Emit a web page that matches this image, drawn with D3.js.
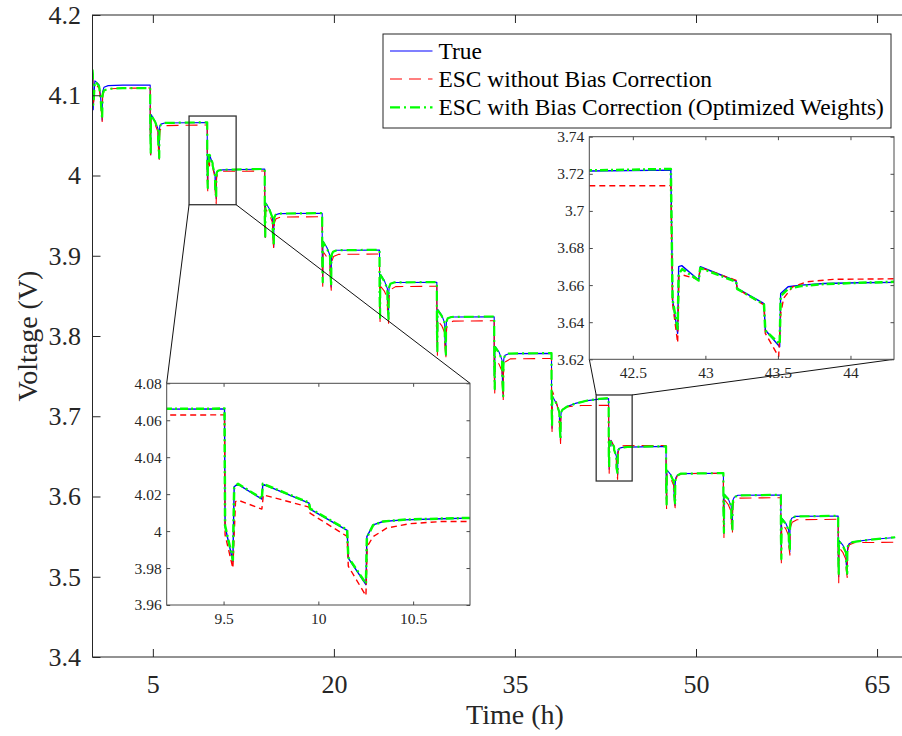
<!DOCTYPE html>
<html>
<head>
<meta charset="utf-8">
<script src="https://cdn.jsdelivr.net/npm/d3@7"></script>
<style>
  html, body { margin: 0; padding: 0; background: #fff; }
  svg { display: block; font-family: "Liberation Serif", "Times New Roman", serif; }
</style>
</head>
<body>
<svg id="chart" width="902" height="736"></svg>
<script>
// ---- Terminal voltage over the discharge test: [time (h), voltage (V)] ----
const trueVoltage = [
  [0,4.130],[0.03,4.125],[0.06,4.082],[0.1,4.095],[0.2,4.118],[0.35,4.116],[0.55,4.113],[0.66,4.100],[0.8,4.069],[0.83,4.104],[0.95,4.110],[1.3,4.112],[2.5,4.1126],[4.78,4.1128],
  [4.783,4.060],[4.825,4.026],[4.84,4.070],[4.86,4.076],[5.18,4.068],[5.43,4.058],[5.44,4.044],[5.53,4.021],[5.54,4.054],[5.58,4.062],[5.68,4.064],[5.98,4.0655],[9.505,4.0661],
  [9.508,4.0025],[9.549,3.9836],[9.556,4.024],[9.574,4.0254],[9.702,4.0173],[9.707,4.0254],[9.951,4.0151],[9.956,4.0119],[10.152,4.0004],[10.158,3.9854],[10.251,3.971],[10.256,3.997],[10.289,4.0034],[10.342,4.0052],[10.447,4.0061],[10.65,4.0067],[10.79,4.007],[14.27,4.0081],
  [14.273,3.945],[14.315,3.923],[14.33,3.960],[14.35,3.966],[14.67,3.958],[14.92,3.947],[14.93,3.932],[15.02,3.911],[15.03,3.940],[15.07,3.948],[15.17,3.951],[15.47,3.9525],[19.03,3.9529],
  [19.033,3.895],[19.075,3.866],[19.09,3.912],[19.11,3.918],[19.43,3.910],[19.68,3.900],[19.69,3.884],[19.78,3.861],[19.79,3.893],[19.83,3.902],[19.93,3.905],[20.23,3.9068],[23.78,3.9072],
  [23.783,3.852],[23.825,3.822],[23.84,3.870],[23.86,3.877],[24.18,3.869],[24.43,3.859],[24.44,3.842],[24.53,3.820],[24.54,3.853],[24.58,3.861],[24.68,3.865],[24.98,3.8666],[28.53,3.867],
  [28.533,3.810],[28.575,3.780],[28.59,3.827],[28.61,3.833],[28.93,3.826],[29.18,3.816],[29.19,3.799],[29.28,3.776],[29.29,3.809],[29.33,3.818],[29.43,3.822],[29.73,3.8236],[33.28,3.824],
  [33.283,3.762],[33.325,3.733],[33.34,3.781],[33.36,3.787],[33.68,3.780],[33.93,3.770],[33.94,3.752],[34.03,3.724],[34.04,3.762],[34.08,3.772],[34.18,3.776],[34.48,3.7780],[38.03,3.7784],
  [38.033,3.712],[38.075,3.685],[38.09,3.720],[38.11,3.725],[38.43,3.716],[38.68,3.705],[38.69,3.690],[38.78,3.670],[38.79,3.698],[38.83,3.705],[38.93,3.708],[39.3,3.712],[40.0,3.716],[41.0,3.7195],[42.0,3.7213],[42.762,3.722],
  [42.774,3.652],[42.809,3.634],[42.816,3.670],[42.837,3.6705],[42.954,3.6627],[42.965,3.6699],[43.212,3.6622],[43.219,3.6582],[43.404,3.650],[43.413,3.6358],[43.512,3.6268],[43.519,3.6555],[43.57,3.6591],[43.66,3.660],[43.82,3.6609],[44.05,3.6613],[44.31,3.6615],[47.52,3.6625],
  [47.523,3.615],[47.565,3.589],[47.58,3.628],[47.60,3.633],[47.92,3.627],[48.17,3.618],[48.18,3.603],[48.27,3.589],[48.28,3.615],[48.32,3.623],[48.42,3.626],[48.72,3.6285],[52.27,3.6289],
  [52.273,3.582],[52.315,3.554],[52.33,3.597],[52.35,3.603],[52.67,3.597],[52.92,3.588],[52.93,3.573],[53.02,3.558],[53.03,3.588],[53.07,3.596],[53.17,3.599],[53.47,3.6015],[57.03,3.6019],
  [57.033,3.550],[57.075,3.521],[57.09,3.567],[57.11,3.573],[57.43,3.567],[57.68,3.558],[57.69,3.545],[57.78,3.531],[57.79,3.560],[57.83,3.569],[57.93,3.573],[58.23,3.5752],[61.78,3.5757],
  [61.783,3.527],[61.825,3.500],[61.84,3.539],[61.86,3.545],[62.18,3.539],[62.43,3.530],[62.44,3.517],[62.53,3.503],[62.54,3.530],[62.58,3.538],[62.68,3.541],[63.0,3.5435],[64.5,3.5465],[66.5,3.549]
];

const escNoBias = [
  [0,4.128],[0.03,4.122],[0.06,4.086],[0.1,4.092],[0.2,4.112],[0.35,4.112],[0.55,4.109],[0.66,4.096],[0.8,4.066],[0.84,4.098],[0.95,4.105],[1.3,4.108],[2.5,4.1088],[4.78,4.109],
  [4.783,4.055],[4.825,4.024],[4.845,4.066],[4.865,4.070],[5.18,4.064],[5.43,4.054],[5.44,4.040],[5.53,4.018],[5.545,4.046],[5.6,4.056],[5.72,4.060],[6.1,4.0622],[9.505,4.0629],
  [9.508,3.998],[9.549,3.980],[9.563,4.016],[9.58,4.0166],[9.702,4.0119],[9.71,4.0196],[9.951,4.013],[9.956,4.0097],[10.152,3.9971],[10.158,3.981],[10.251,3.965],[10.258,3.9917],[10.289,3.997],[10.36,4.0016],[10.48,4.004],[10.65,4.0052],[10.8,4.0052],[14.27,4.0056],
  [14.273,3.940],[14.315,3.919],[14.335,3.953],[14.355,3.958],[14.67,3.951],[14.92,3.941],[14.93,3.926],[15.02,3.907],[15.035,3.933],[15.09,3.942],[15.21,3.946],[15.6,3.9482],[19.03,3.9487],
  [19.033,3.890],[19.075,3.862],[19.095,3.900],[19.115,3.905],[19.43,3.898],[19.68,3.889],[19.69,3.874],[19.78,3.857],[19.795,3.884],[19.85,3.894],[19.97,3.899],[20.36,3.9017],[23.78,3.9022],
  [23.783,3.847],[23.825,3.818],[23.845,3.857],[23.865,3.862],[24.18,3.856],[24.43,3.847],[24.44,3.832],[24.53,3.816],[24.545,3.842],[24.6,3.853],[24.72,3.858],[25.11,3.8615],[28.53,3.862],
  [28.533,3.805],[28.575,3.776],[28.595,3.814],[28.615,3.819],[28.93,3.813],[29.18,3.804],[29.19,3.789],[29.28,3.772],[29.295,3.799],[29.35,3.810],[29.47,3.815],[29.86,3.8185],[33.28,3.819],
  [33.283,3.757],[33.325,3.729],[33.345,3.765],[33.365,3.770],[33.68,3.765],[33.93,3.756],[33.94,3.741],[34.03,3.720],[34.045,3.752],[34.1,3.763],[34.22,3.768],[34.61,3.7715],[38.03,3.772],
  [38.033,3.705],[38.075,3.681],[38.095,3.725],[38.115,3.731],[38.43,3.718],[38.68,3.703],[38.69,3.687],[38.78,3.666],[38.795,3.694],[38.85,3.704],[38.97,3.709],[39.4,3.712],[40.5,3.7134],[42.762,3.7136],
  [42.774,3.650],[42.809,3.629],[42.818,3.6646],[42.84,3.6655],[42.954,3.6631],[42.965,3.6695],[43.212,3.6625],[43.219,3.658],[43.404,3.6493],[43.413,3.634],[43.505,3.6214],[43.52,3.645],[43.54,3.653],[43.6,3.659],[43.7,3.6618],[43.88,3.6631],[44.31,3.6634],[47.52,3.6636],
  [47.523,3.610],[47.565,3.583],[47.585,3.623],[47.605,3.628],[47.92,3.622],[48.17,3.613],[48.18,3.599],[48.27,3.586],[48.285,3.612],[48.34,3.621],[48.46,3.626],[48.85,3.6285],[52.27,3.629],
  [52.273,3.577],[52.315,3.549],[52.335,3.591],[52.355,3.596],[52.67,3.590],[52.92,3.581],[52.93,3.567],[53.02,3.553],[53.035,3.581],[53.09,3.591],[53.21,3.596],[53.6,3.598],[57.03,3.5985],
  [57.033,3.545],[57.075,3.516],[57.095,3.561],[57.115,3.566],[57.43,3.560],[57.68,3.551],[57.69,3.538],[57.78,3.527],[57.795,3.553],[57.85,3.563],[57.97,3.568],[58.36,3.571],[61.78,3.5716],
  [61.783,3.520],[61.825,3.4926],[61.845,3.531],[61.865,3.536],[62.18,3.530],[62.43,3.521],[62.44,3.509],[62.53,3.499],[62.545,3.525],[62.6,3.535],[62.72,3.540],[63.11,3.5425],[66.5,3.543]
];

const escBiasCorrected = [
  [0,4.132],[0.03,4.126],[0.06,4.088],[0.1,4.094],[0.2,4.117],[0.35,4.115],[0.55,4.111],[0.66,4.098],[0.8,4.070],[0.84,4.101],[0.95,4.106],[1.3,4.108],[2.5,4.1088],[4.78,4.109],
  [4.783,4.058],[4.825,4.027],[4.84,4.069],[4.86,4.075],[5.18,4.067],[5.43,4.057],[5.44,4.043],[5.53,4.022],[5.54,4.053],[5.58,4.061],[5.68,4.0635],[5.98,4.0655],[9.505,4.0663],
  [9.508,4.003],[9.549,3.9845],[9.556,4.0235],[9.576,4.0256],[9.702,4.0176],[9.707,4.0256],[9.951,4.0154],[9.956,4.0122],[10.152,4.0007],[10.158,3.9858],[10.251,3.9716],[10.256,3.9965],[10.289,4.0032],[10.342,4.0052],[10.447,4.0062],[10.65,4.0068],[10.79,4.0071],[14.27,4.0082],
  [14.273,3.946],[14.315,3.924],[14.33,3.959],[14.35,3.965],[14.67,3.957],[14.92,3.947],[14.93,3.932],[15.02,3.912],[15.03,3.940],[15.07,3.948],[15.17,3.951],[15.47,3.9526],[19.03,3.9531],
  [19.033,3.896],[19.075,3.867],[19.09,3.911],[19.11,3.917],[19.43,3.909],[19.68,3.899],[19.69,3.884],[19.78,3.862],[19.79,3.893],[19.83,3.902],[19.93,3.905],[20.23,3.9069],[23.78,3.9074],
  [23.783,3.853],[23.825,3.823],[23.84,3.869],[23.86,3.876],[24.18,3.868],[24.43,3.859],[24.44,3.842],[24.53,3.821],[24.54,3.853],[24.58,3.861],[24.68,3.865],[24.98,3.8667],[28.53,3.8672],
  [28.533,3.811],[28.575,3.781],[28.59,3.826],[28.61,3.832],[28.93,3.825],[29.18,3.816],[29.19,3.799],[29.28,3.777],[29.29,3.809],[29.33,3.818],[29.43,3.822],[29.73,3.8237],[33.28,3.8243],
  [33.283,3.763],[33.325,3.734],[33.34,3.780],[33.36,3.786],[33.68,3.779],[33.93,3.770],[33.94,3.752],[34.03,3.725],[34.04,3.762],[34.08,3.772],[34.18,3.776],[34.48,3.7781],[38.03,3.7787],
  [38.033,3.713],[38.075,3.686],[38.09,3.719],[38.11,3.724],[38.43,3.716],[38.68,3.705],[38.69,3.690],[38.78,3.671],[38.79,3.698],[38.83,3.705],[38.93,3.708],[39.3,3.7118],[40.0,3.7158],[41.0,3.7196],[42.0,3.7216],[42.762,3.7226],
  [42.774,3.652],[42.809,3.6365],[42.816,3.666],[42.84,3.6686],[42.954,3.6625],[42.965,3.6692],[43.212,3.6618],[43.219,3.6580],[43.404,3.6496],[43.413,3.6355],[43.512,3.6282],[43.519,3.654],[43.57,3.658],[43.66,3.6595],[43.82,3.6606],[44.05,3.6612],[44.31,3.6618],[47.52,3.6626],
  [47.523,3.615],[47.565,3.590],[47.58,3.627],[47.60,3.632],[47.92,3.626],[48.17,3.618],[48.18,3.603],[48.27,3.590],[48.28,3.615],[48.32,3.623],[48.42,3.626],[48.72,3.6284],[52.27,3.6292],
  [52.273,3.582],[52.315,3.555],[52.33,3.596],[52.35,3.602],[52.67,3.597],[52.92,3.588],[52.93,3.573],[53.02,3.559],[53.03,3.588],[53.07,3.596],[53.17,3.599],[53.47,3.6013],[57.03,3.6021],
  [57.033,3.550],[57.075,3.522],[57.09,3.566],[57.11,3.572],[57.43,3.566],[57.68,3.558],[57.69,3.545],[57.78,3.532],[57.79,3.560],[57.83,3.569],[57.93,3.573],[58.23,3.5751],[61.78,3.5759],
  [61.783,3.527],[61.825,3.501],[61.84,3.538],[61.86,3.544],[62.18,3.538],[62.43,3.530],[62.44,3.517],[62.53,3.504],[62.54,3.530],[62.58,3.538],[62.68,3.541],[63.0,3.5432],[64.5,3.5463],[66.5,3.5492]
];

const seriesNames = ["True", "ESC without Bias Correction", "ESC with Bias Correction (Optimized Weights)"];

// ---- axis limits and ticks ----
const xDomain = [0, 70];
const yDomain = [3.4, 4.2];
const xTicks = [5, 20, 35, 50, 65];
const yTicks = [3.4, 3.5, 3.6, 3.7, 3.8, 3.9, 4.0, 4.1, 4.2];

const inset1XDomain = [9.2, 10.8];
const inset1YDomain = [3.96, 4.08];
const inset1XTicks = [9.5, 10, 10.5];
const inset1YTicks = [3.96, 3.98, 4.0, 4.02, 4.04, 4.06, 4.08];

const inset2XDomain = [42.2, 44.3];
const inset2YDomain = [3.62, 3.74];
const inset2XTicks = [42.5, 43, 43.5, 44];
const inset2YTicks = [3.62, 3.64, 3.66, 3.68, 3.70, 3.72, 3.74];

// zoom windows marked on the main axes: [t0, t1] x [v0, v1]
const zoomWindow1 = [[8.0, 11.9], [3.9636, 4.0741]];
const zoomWindow2 = [[41.73, 44.71], [3.6193, 3.7265]];

// ---- layout ----
const W = 902, H = 736;
const FONT = '"Liberation Serif", "Times New Roman", serif';
const AX = "#262626";
const mainBox = { left: 92.5, right: 937.4, top: 15, bottom: 657 };
const inset1Box = { left: 166.7, right: 470, top: 383.3, bottom: 605 };
const inset2Box = { left: 589.3, right: 894, top: 136.7, bottom: 359.3 };

const styles = [
  { color: "#0000ff", width: 1.1, dash: null, insetDash: null },
  { color: "#ff0000", width: 1.1, dash: "12,7", insetDash: "6,4" },
  { color: "#00ff00", width: 2.2, dash: "10,4,2,4", insetDash: "8,3,2,3" }
];
const allSeries = [trueVoltage, escNoBias, escBiasCorrected];

const svg = d3.select("#chart");
svg.append("rect").attr("width", W).attr("height", H).attr("fill", "#fff");
const defs = svg.append("defs");

const fmt = d => String(+d.toFixed(2));

function makeScales(box, xd, yd) {
  return {
    x: d3.scaleLinear().domain(xd).range([box.left, box.right]),
    y: d3.scaleLinear().domain(yd).range([box.bottom, box.top])
  };
}

function drawLines(g, sc, clipId, inset) {
  const line = d3.line().x(d => sc.x(d[0])).y(d => sc.y(d[1]));
  const lg = g.append("g").attr("clip-path", `url(#${clipId})`);
  allSeries.forEach((s, i) => {
    const st = styles[i];
    lg.append("path")
      .attr("d", line(s))
      .attr("fill", "none")
      .attr("stroke", st.color)
      .attr("stroke-width", inset ? st.width + 0.3 : st.width)
      .attr("stroke-dasharray", inset ? st.insetDash : st.dash)
      .attr("stroke-linejoin", "round");
  });
}

function addClip(id, box) {
  defs.append("clipPath").attr("id", id)
    .append("rect")
    .attr("x", box.left).attr("y", box.top)
    .attr("width", box.right - box.left).attr("height", box.bottom - box.top);
}

function drawFrame(g, sc, box, xt, yt, o) {
  // tick marks point inward on all four sides, labels on bottom and left
  const bottom = g.append("g").attr("transform", `translate(0,${box.bottom})`)
    .call(d3.axisBottom(sc.x).tickValues(xt).tickFormat(fmt)
      .tickSize(-o.tick).tickSizeOuter(0).tickPadding(o.xPad));
  const top = g.append("g").attr("transform", `translate(0,${box.top})`)
    .call(d3.axisTop(sc.x).tickValues(xt).tickFormat("")
      .tickSize(-o.tick).tickSizeOuter(0));
  const left = g.append("g").attr("transform", `translate(${box.left},0)`)
    .call(d3.axisLeft(sc.y).tickValues(yt).tickFormat(fmt)
      .tickSize(-o.tick).tickSizeOuter(0).tickPadding(o.yPad));
  const right = g.append("g").attr("transform", `translate(${box.right},0)`)
    .call(d3.axisRight(sc.y).tickValues(yt).tickFormat("")
      .tickSize(-o.tick).tickSizeOuter(0));
  [bottom, top, left, right].forEach(a => {
    a.attr("font-family", FONT).attr("font-size", o.font);
    a.selectAll("path.domain").remove();
    a.selectAll(".tick line").attr("stroke", o.stroke).attr("stroke-width", 1);
    a.selectAll(".tick text").attr("fill", AX);
  });
  g.append("rect")
    .attr("x", box.left).attr("y", box.top)
    .attr("width", box.right - box.left).attr("height", box.bottom - box.top)
    .attr("fill", "none").attr("stroke", o.stroke).attr("stroke-width", 1);
}

// ---- main axes ----
const mainSc = makeScales(mainBox, xDomain, yDomain);
addClip("clipMain", mainBox);
const gMain = svg.append("g");
drawLines(gMain, mainSc, "clipMain", false);
drawFrame(gMain, mainSc, mainBox, xTicks, yTicks, { tick: 8, xPad: 18, yPad: 11.5, font: 26, stroke: AX });

// axis titles
svg.append("text")
  .attr("x", (mainBox.left + mainBox.right) / 2).attr("y", 724)
  .attr("text-anchor", "middle").attr("font-family", FONT).attr("font-size", 28).attr("fill", AX)
  .text("Time (h)");
svg.append("text")
  .attr("transform", `translate(37,${(mainBox.top + mainBox.bottom) / 2}) rotate(-90)`)
  .attr("text-anchor", "middle").attr("font-family", FONT).attr("font-size", 28).attr("fill", AX)
  .text("Voltage (V)");

// ---- zoom windows and connectors ----
const zoomG = svg.append("g");
function windowRect(w) {
  return {
    left: mainSc.x(w[0][0]), right: mainSc.x(w[0][1]),
    top: mainSc.y(w[1][1]), bottom: mainSc.y(w[1][0])
  };
}
const r1 = windowRect(zoomWindow1), r2 = windowRect(zoomWindow2);
[r1, r2].forEach(r => {
  zoomG.append("rect")
    .attr("x", r.left).attr("y", r.top)
    .attr("width", r.right - r.left).attr("height", r.bottom - r.top)
    .attr("fill", "none").attr("stroke", "#333").attr("stroke-width", 1.3);
});
const connectors = [
  [[r1.left, r1.bottom], [inset1Box.left, inset1Box.top]],
  [[r1.right, r1.bottom], [inset1Box.right, inset1Box.top]],
  [[r2.left, r2.top], [inset2Box.left, inset2Box.bottom]],
  [[r2.right, r2.top], [inset2Box.right, inset2Box.bottom]]
];
connectors.forEach(c => {
  zoomG.append("line")
    .attr("x1", c[0][0]).attr("y1", c[0][1]).attr("x2", c[1][0]).attr("y2", c[1][1])
    .attr("stroke", "#111").attr("stroke-width", 1);
});

// ---- inset axes ----
function drawInset(box, xd, yd, xt, yt, clipId) {
  const sc = makeScales(box, xd, yd);
  addClip(clipId, box);
  const g = svg.append("g");
  g.append("rect")
    .attr("x", box.left).attr("y", box.top)
    .attr("width", box.right - box.left).attr("height", box.bottom - box.top)
    .attr("fill", "#fff");
  drawLines(g, sc, clipId, true);
  drawFrame(g, sc, box, xt, yt, { tick: 3.5, xPad: 8, yPad: 5, font: 15.5, stroke: "#4a4a4a" });
}
drawInset(inset1Box, inset1XDomain, inset1YDomain, inset1XTicks, inset1YTicks, "clipInset1");
drawInset(inset2Box, inset2XDomain, inset2YDomain, inset2XTicks, inset2YTicks, "clipInset2");

// ---- legend ----
const leg = { left: 383, top: 34, right: 891, bottom: 128 };
const legendRows = [51, 79, 107.3];
const lg = svg.append("g");
lg.append("rect")
  .attr("x", leg.left).attr("y", leg.top)
  .attr("width", leg.right - leg.left).attr("height", leg.bottom - leg.top)
  .attr("fill", "#fff").attr("stroke", AX).attr("stroke-width", 1);
seriesNames.forEach((name, i) => {
  const st = styles[i];
  const yy = legendRows[i];
  lg.append("line")
    .attr("x1", 390).attr("x2", 432.5).attr("y1", yy).attr("y2", yy)
    .attr("stroke", st.color).attr("stroke-width", st.width)
    .attr("stroke-dasharray", st.dash);
  lg.append("text")
    .attr("x", 438.5).attr("y", yy + 7.7)
    .attr("font-family", FONT).attr("font-size", 23.4).attr("fill", "#000")
    .text(name);
});
</script>
</body>
</html>
